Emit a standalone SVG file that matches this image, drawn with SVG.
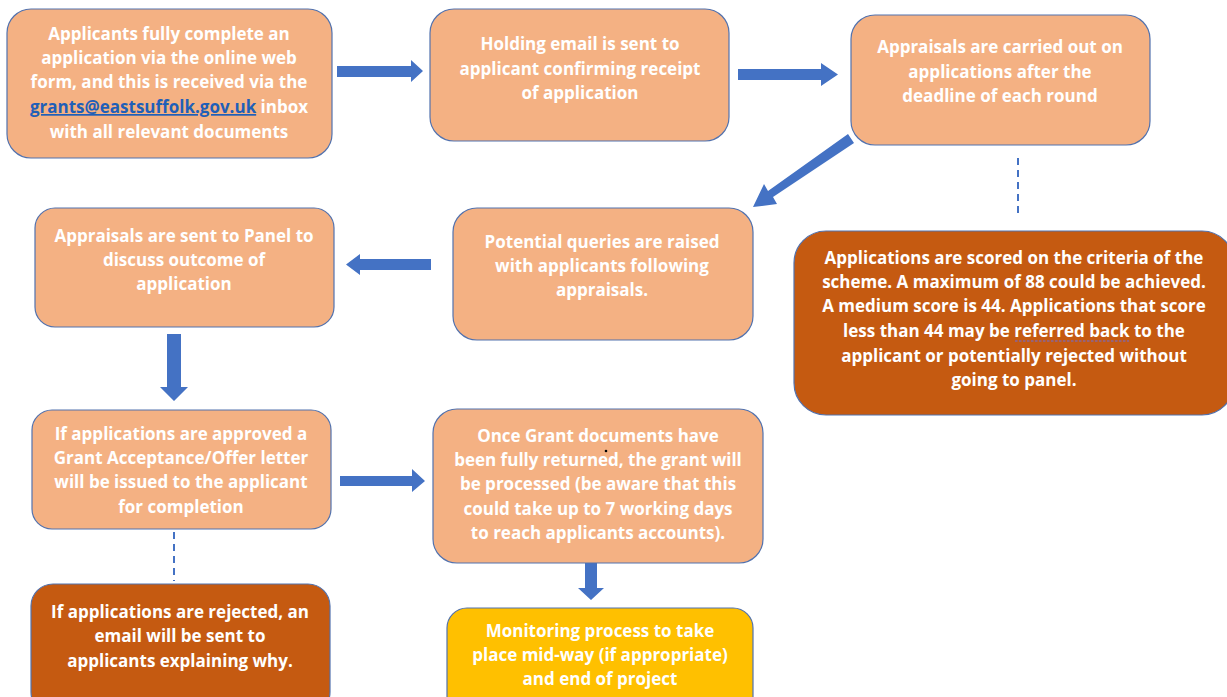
<svg xmlns="http://www.w3.org/2000/svg" width="1227" height="697" viewBox="0 0 1227 697">
<style>
.box{fill:#F4B183;stroke:#5272AE;stroke-width:1.2}
.dark{fill:#C55A11;stroke:#5272AE;stroke-width:1.2}
.yel{fill:#FFC000;stroke:#5272AE;stroke-width:1.2}
text{font-family:"Open Sans","Noto Sans","Liberation Sans",sans-serif;font-weight:bold;font-size:17px;fill:#FFFFFF;text-anchor:middle}
.arr{fill:#4472C4}
.dash{stroke:#4472C4;stroke-width:2;stroke-dasharray:7 5;fill:none}
</style>
<rect width="1227" height="697" fill="#FFFFFF"/>
<g id="connectors">
<polygon class="arr" points="337,66 411,66 411,60 423,71 411,82 411,77 337,77"/>
<polygon class="arr" points="738,69 821,69 821,63 838,74.5 821,86 821,80 738,80"/>
<polygon class="arr" points="848,134 854,143 773,197 777,204 753,207 764,184 768,191"/>
<polygon class="arr" points="431,259 360,259 360,254 346,264.5 360,275 360,270 431,270"/>
<polygon class="arr" points="167,334 181,334 181,387 188,387 174,401 160,387 167,387"/>
<polygon class="arr" points="340,476 412,476 412,469 425,481 412,492 412,486 340,486"/>
<polygon class="arr" points="585,563 597,563 597,588 604,588 591,600 578,588 585,588"/>
<line class="dash" x1="1018" y1="158" x2="1018" y2="215"/>
<line class="dash" x1="174" y1="532" x2="174" y2="581"/>
</g>
<g id="n1">
<rect class="box" x="7" y="9" width="325" height="149" rx="24"/>
<text x="169" y="40">Applicants fully complete an</text>
<text x="169" y="64">application via the online web</text>
<text x="169" y="88">form, and this is received via the</text>
<text x="169" y="113"><tspan fill="#1F5FB8" text-decoration="underline">grants@eastsuffolk.gov.uk</tspan> inbox</text>
<text x="169" y="138">with all relevant documents</text>
</g>
<g id="n2">
<rect class="box" x="430" y="9" width="299" height="132" rx="24"/>
<text x="580" y="50">Holding email is sent to</text>
<text x="580" y="75">applicant confirming receipt</text>
<text x="580" y="99">of application</text>
</g>
<g id="n3">
<rect class="box" x="851" y="15" width="299" height="130" rx="24"/>
<text x="1000" y="53">Appraisals are carried out on</text>
<text x="1000" y="78">applications after the</text>
<text x="1000" y="102">deadline of each round</text>
</g>
<g id="n4">
<rect class="dark" x="794" y="231" width="440" height="184" rx="32"/>
<text x="1014" y="264">Applications are scored on the criteria of the</text>
<text x="1014" y="288">scheme. A maximum of 88 could be achieved.</text>
<text x="1014" y="312">A medium score is 44. Applications that score</text>
<text x="1014" y="337">less than 44 may be referred back to the</text>
<line x1="1015" y1="341" x2="1129" y2="341" stroke="#6B6BE0" stroke-width="1.2" stroke-dasharray="2.5 1.5"/>
<text x="1014" y="362">applicant or potentially rejected without</text>
<text x="1014" y="386">going to panel.</text>
</g>
<g id="n5">
<rect class="box" x="35" y="208" width="299" height="119" rx="20"/>
<text x="184" y="242">Appraisals are sent to Panel to</text>
<text x="184" y="266">discuss outcome of</text>
<text x="184" y="290">application</text>
</g>
<g id="n6">
<rect class="box" x="453" y="208" width="300" height="132" rx="24"/>
<text x="602" y="248">Potential queries are raised</text>
<text x="602" y="272">with applicants following</text>
<text x="602" y="296">appraisals.</text>
</g>
<g id="n7">
<rect class="box" x="32" y="410" width="299" height="119" rx="20"/>
<text x="181" y="440">If applications are approved a</text>
<text x="181" y="464">Grant Acceptance/Offer letter</text>
<text x="181" y="488">will be issued to the applicant</text>
<text x="181" y="513">for completion</text>
</g>
<g id="n8">
<rect class="dark" x="31" y="584" width="299" height="130" rx="22"/>
<text x="180" y="618">If applications are rejected, an</text>
<text x="180" y="642">email will be sent to</text>
<text x="180" y="667">applicants explaining why.</text>
</g>
<g id="n9">
<rect class="box" x="433" y="409" width="330" height="154" rx="24"/>
<text x="598" y="442">Once Grant documents have</text>
<text x="598" y="466">been fully returned, the grant will</text>
<text x="598" y="490">be processed (be aware that this</text>
<text x="598" y="515">could take up to 7 working days</text>
<text x="598" y="539">to reach applicants accounts).</text>
<circle cx="606" cy="451" r="1.3" fill="#000000"/>
</g>
<g id="n10">
<rect class="yel" x="447" y="608" width="306" height="110" rx="20"/>
<text x="600" y="637">Monitoring process to take</text>
<text x="600" y="661">place mid-way (if appropriate)</text>
<text x="600" y="685">and end of project</text>
</g>
</svg>
